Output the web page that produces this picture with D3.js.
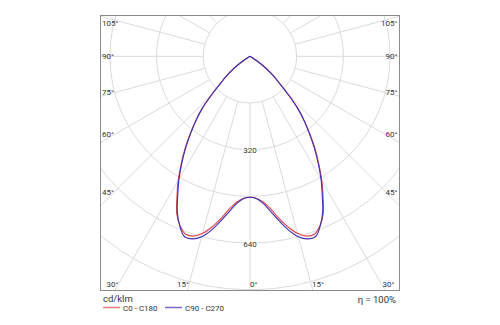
<!DOCTYPE html>
<html>
<head>
<meta charset="utf-8">
<script src="https://cdn.jsdelivr.net/npm/d3@7/dist/d3.min.js"></script>
<style>
  html, body { margin: 0; padding: 0; background: #fff; }
  svg { display: block; font-family: Roboto, "Liberation Sans", sans-serif; }
</style>
</head>
<body>
<svg id="chart" width="500" height="325"></svg>
<script>
// Luminous intensity distribution (cd/klm) by gamma angle, symmetric planes
const gammaAngles = [0, 2.5, 5, 7.5, 10, 12.5, 15, 17.5, 20, 22.5, 25, 27.5, 30, 32.5, 35, 37.5,
  40, 42.5, 45, 47.5, 50, 52.5, 55, 57.5, 60, 75, 90, 105, 120, 135, 150, 165, 180];
const intensityC0C180 = [483, 487, 500, 525, 562, 598, 628, 646, 648, 627, 594, 542, 492, 440, 390, 338,
  291, 243, 186, 137, 107, 77, 46, 17, 0, 0, 0, 0, 0, 0, 0, 0, 0];
const intensityC90C270 = [483, 488, 505, 535, 572, 610, 640, 656, 657, 629, 589, 536, 487, 435, 385, 335,
  289, 242, 185, 136, 107, 76, 46, 17, 0, 0, 0, 0, 0, 0, 0, 0, 0];

const seriesNames = ["C0 - C180", "C90 - C270"];
const seriesColors = ["#e0474c", "#3b2db4"];
const ringValues = [160, 320, 480, 640, 800];
const ringLabels = [320, 640];
const angleTicks = [0, 15, 30, 45, 60, 75, 90, 105, 120, 135, 150, 165, 180];
const sideLabelAngles = [45, 60, 75, 90, 105];
const bottomLabelAngles = [15, 30];
const unitLabel = "cd/klm";
const efficiencyLabel = "η = 100%";

const svg = d3.select("#chart");
const box = { x0: 100.5, y0: 15.5, x1: 399.5, y1: 290.5 };
const cx = 250, cy = 56.3;
const r = d3.scaleLinear().domain([0, 160]).range([0, 46.7]);
const rad = d => d * Math.PI / 180;

// gamma measured from straight down; side = +1 right half, -1 left half
const px = (g, v, side) => cx + side * r(v) * Math.sin(rad(g));
const py = (g, v) => cy + r(v) * Math.cos(rad(g));

svg.append("defs").append("clipPath").attr("id", "plotClip")
  .append("rect").attr("x", box.x0).attr("y", box.y0)
  .attr("width", box.x1 - box.x0).attr("height", box.y1 - box.y0);

const grid = svg.append("g").attr("clip-path", "url(#plotClip)");

// concentric rings
grid.selectAll("circle.ring").data(ringValues).join("circle")
  .attr("class", "ring")
  .attr("cx", cx).attr("cy", cy).attr("r", d => r(d))
  .attr("fill", "none").attr("stroke", "#dadada").attr("stroke-width", 1);

// radial spokes from the first ring outward
const spokes = [];
angleTicks.forEach(a => { spokes.push([a, 1]); if (a > 0 && a < 180) spokes.push([a, -1]); });
grid.selectAll("line.spoke").data(spokes).join("line")
  .attr("class", "spoke")
  .attr("x1", d => px(d[0], ringValues[0], d[1])).attr("y1", d => py(d[0], ringValues[0]))
  .attr("x2", d => px(d[0], 2000, d[1])).attr("y2", d => py(d[0], 2000))
  .attr("stroke", "#dadada").attr("stroke-width", 1);

// intensity curves, left half = C180/C270, right half = C0/C90
const line = d3.line().x(d => d[0]).y(d => d[1]).curve(d3.curveCatmullRom.alpha(0.5));
function curvePoints(values) {
  const pts = [];
  for (let i = gammaAngles.length - 1; i >= 0; i--) pts.push([px(gammaAngles[i], values[i], -1), py(gammaAngles[i], values[i])]);
  for (let i = 1; i < gammaAngles.length; i++) pts.push([px(gammaAngles[i], values[i], 1), py(gammaAngles[i], values[i])]);
  // drop repeated points where the distribution sits at the origin
  return pts.filter((p, i) => i === 0 || Math.hypot(p[0] - pts[i - 1][0], p[1] - pts[i - 1][1]) > 0.01);
}
const seriesValues = [intensityC0C180, intensityC90C270];
grid.selectAll("path.curve").data(seriesValues).join("path")
  .attr("class", "curve")
  .attr("d", d => line(curvePoints(d)))
  .attr("fill", "none")
  .attr("stroke", (d, i) => seriesColors[i])
  .attr("stroke-width", 1.1);

// ring value labels on the vertical axis
const ringText = svg.append("g").attr("font-size", 8).attr("fill", "#333");
ringText.selectAll("text").data(ringLabels).join("text")
  .attr("x", cx).attr("y", d => cy + r(d) + 1)
  .attr("text-anchor", "middle").attr("dominant-baseline", "central")
  .attr("stroke", "#fff").attr("stroke-width", 3).attr("paint-order", "stroke")
  .text(d => d);

// angle labels
const lab = svg.append("g").attr("font-size", 8).attr("fill", "#333")
  .attr("dominant-baseline", "central");
const sideY = a => Math.max(23.5, cy + (250 - 114) / Math.tan(rad(a)));
sideLabelAngles.forEach(a => {
  lab.append("text").attr("x", 102).attr("y", sideY(a)).attr("text-anchor", "start").text(a + "°");
  lab.append("text").attr("x", 397.5).attr("y", sideY(a)).attr("text-anchor", "end").text(a + "°");
});
const bottomY = 284;
bottomLabelAngles.forEach(a => {
  const dx = (bottomY - cy) * Math.tan(rad(a));
  lab.append("text").attr("x", cx - dx).attr("y", bottomY).attr("text-anchor", "end").text(a + "°");
  lab.append("text").attr("x", cx + dx + 1).attr("y", bottomY).attr("text-anchor", "start").text(a + "°");
});
lab.append("text").attr("x", cx).attr("y", bottomY).attr("text-anchor", "start").text("0°");

// frame
svg.append("rect").attr("x", box.x0).attr("y", box.y0)
  .attr("width", box.x1 - box.x0).attr("height", box.y1 - box.y0)
  .attr("fill", "none").attr("stroke", "#8c8c8c").attr("stroke-width", 1);

// legend
svg.append("text").attr("x", 103).attr("y", 302).attr("font-size", 9.5).attr("fill", "#333").text(unitLabel);
svg.append("text").attr("x", 396).attr("y", 303).attr("font-size", 9.5).attr("fill", "#333")
  .attr("text-anchor", "end").text(efficiencyLabel);
const legendX = [103, 165];
const leg = svg.append("g");
seriesNames.forEach((name, i) => {
  leg.append("line").attr("x1", legendX[i]).attr("x2", legendX[i] + 17)
    .attr("y1", 307.5).attr("y2", 307.5)
    .attr("stroke", seriesColors[i]).attr("stroke-opacity", 0.7).attr("stroke-width", 1.5);
  leg.append("text").attr("x", legendX[i] + 20).attr("y", 310.5)
    .attr("font-size", 8).attr("fill", "#333").text(name);
});
</script>
</body>
</html>
